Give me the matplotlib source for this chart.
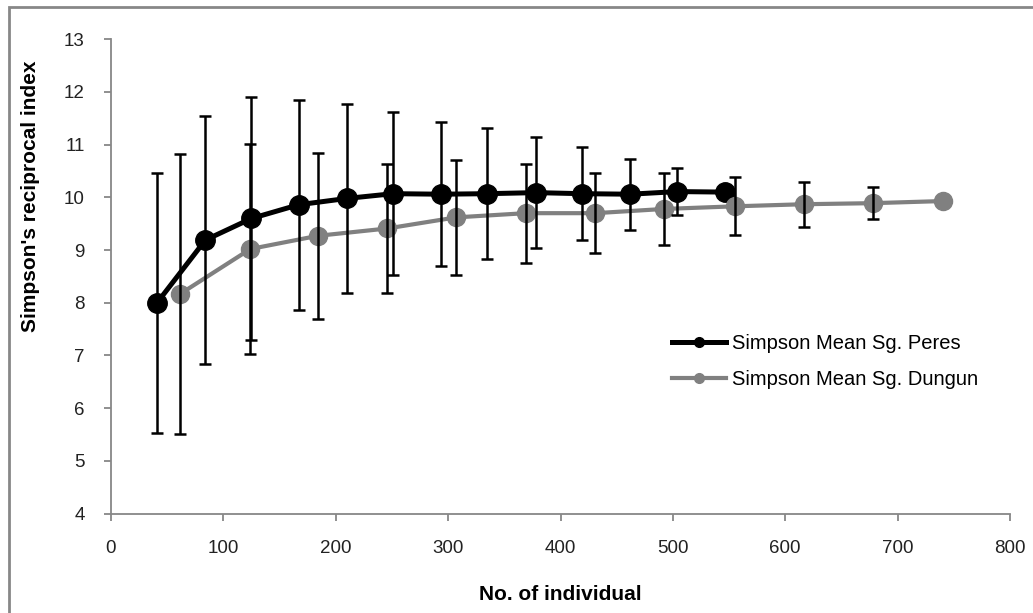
import matplotlib
matplotlib.use("Agg")
import matplotlib.pyplot as plt
from matplotlib.lines import Line2D
from matplotlib.patches import Rectangle

plt.rcParams["font.family"] = ["Liberation Sans", "DejaVu Sans"]

AXIS_COLOR = "#878787"
PERES_COLOR = "#000000"
DUNGUN_COLOR = "#808080"

# Sg. Peres
peres_n = [41, 84, 125, 167, 210, 251, 294, 335, 378, 419, 462, 504, 546]
peres_mean = [8.00, 9.19, 9.60, 9.86, 9.98, 10.07, 10.06, 10.07, 10.09, 10.07, 10.06, 10.11, 10.10]
peres_err = [2.47, 2.35, 2.30, 1.99, 1.79, 1.55, 1.37, 1.24, 1.06, 0.88, 0.67, 0.45, 0.0]

# Sg. Dungun
dungun_n = [61, 124, 184, 246, 307, 369, 431, 492, 555, 617, 678, 740]
dungun_mean = [8.16, 9.02, 9.27, 9.41, 9.62, 9.70, 9.70, 9.78, 9.83, 9.87, 9.89, 9.93]
dungun_err = [2.66, 1.99, 1.57, 1.23, 1.09, 0.94, 0.76, 0.68, 0.55, 0.43, 0.31, 0.0]

x_ticks = [0, 100, 200, 300, 400, 500, 600, 700, 800]
y_ticks = [4, 5, 6, 7, 8, 9, 10, 11, 12, 13]

fig = plt.figure(figsize=(10.33, 6.13), dpi=100)
ax = fig.add_axes([111 / 1033, 1 - 513.5 / 613, (1010 - 111) / 1033, (513.5 - 39.3) / 613])

# lines + markers
ax.plot(peres_n, peres_mean, color=PERES_COLOR, linewidth=3.6, marker="o",
        markersize=14, zorder=2)
ax.plot(dungun_n, dungun_mean, color=DUNGUN_COLOR, linewidth=3.0, marker="o",
        markersize=13, zorder=2.5)

# error bars (black for both series, drawn on top like Excel)
for xs, ys, es in [(peres_n, peres_mean, peres_err), (dungun_n, dungun_mean, dungun_err)]:
    xe = [x for x, e in zip(xs, es) if e > 0]
    ye = [y for y, e in zip(ys, es) if e > 0]
    ee = [e for e in es if e > 0]
    ax.errorbar(xe, ye, yerr=ee, fmt="none", ecolor="black", elinewidth=1.8,
                capsize=4.5, capthick=1.8, zorder=3)

ax.set_xlim(0, 800)
ax.set_ylim(4, 13)
ax.set_xticks(x_ticks)
ax.set_yticks(y_ticks)

for side in ["top", "right"]:
    ax.spines[side].set_visible(False)
for side in ["left", "bottom"]:
    ax.spines[side].set_color(AXIS_COLOR)
    ax.spines[side].set_linewidth(1.3)
ax.tick_params(axis="both", direction="out", length=5, width=1.3, color=AXIS_COLOR,
               labelsize=13.5, labelcolor="#222222", pad=14)

ax.set_xlabel("No. of individual", fontsize=15, fontweight="bold", labelpad=20)
ax.set_ylabel("Simpson's reciprocal index", fontsize=15, fontweight="bold")
ax.yaxis.set_label_coords(-0.079, 0.668)

handles = [
    Line2D([], [], color=PERES_COLOR, linewidth=3.6, marker="o", markersize=7),
    Line2D([], [], color=DUNGUN_COLOR, linewidth=3.0, marker="o", markersize=7),
]
ax.legend(handles, ["Simpson Mean Sg. Peres", "Simpson Mean Sg. Dungun"],
          loc="center left", bbox_to_anchor=(0.624, 0.321), frameon=False,
          borderpad=0, borderaxespad=0,
          fontsize=14.5, handlelength=2.7, handletextpad=0.3, labelspacing=0.85)

# outer chart border (left and top edges visible)
fig.patches.append(Rectangle((8.5 / 1033, -0.2), 1.2, 1.2 - 7 / 613,
                             transform=fig.transFigure, fill=False,
                             edgecolor=AXIS_COLOR, linewidth=2))

fig.savefig("out.png", dpi=100, facecolor="white")
